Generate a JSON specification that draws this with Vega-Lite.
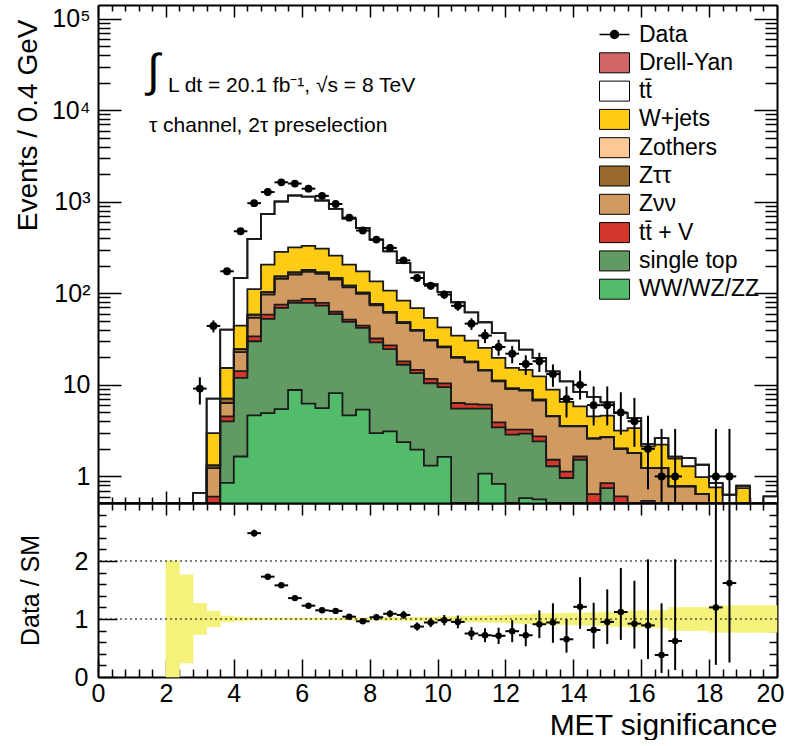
{
  "$schema": "https://vega.github.io/schema/vega-lite/v6.json",
  "padding": {"left": 14, "top": 4, "right": 0, "bottom": 0},
  "spacing": 0,
  "bounds": "flush",
  "config": {
    "font": "Liberation Sans",
    "view": {"stroke": null},
    "axis": {
      "domainColor": "#000", "domainWidth": 2, "tickColor": "#000", "tickWidth": 1.5,
      "labelFont": "Liberation Sans", "labelFontSize": 25, "labelColor": "#000",
      "titleFont": "Liberation Sans", "titleFontSize": 28, "titleFontWeight": "normal", "titleColor": "#000",
      "grid": false, "zindex": 1, "labelOverlap": false, "labelFlush": false, "labelBound": false
    }
  },
  "datasets": {
    "mc": [
      {"lo":0,"hi":0.4,"c1":0,"c2":0,"c3":0,"c4":0,"c5":0,"c6":0,"c7":0,"c8":0,"c9":0},
      {"lo":0.4,"hi":0.8,"c1":0,"c2":0,"c3":0,"c4":0,"c5":0,"c6":0,"c7":0,"c8":0,"c9":0},
      {"lo":0.8,"hi":1.2,"c1":0,"c2":0,"c3":0,"c4":0,"c5":0,"c6":0,"c7":0,"c8":0,"c9":0},
      {"lo":1.2,"hi":1.6,"c1":0,"c2":0,"c3":0,"c4":0,"c5":0,"c6":0,"c7":0,"c8":0,"c9":0},
      {"lo":1.6,"hi":2.0,"c1":0,"c2":0,"c3":0,"c4":0,"c5":0,"c6":0,"c7":0,"c8":0,"c9":0},
      {"lo":2.0,"hi":2.4,"c1":0,"c2":0,"c3":0,"c4":0,"c5":0,"c6":0,"c7":0,"c8":0,"c9":0},
      {"lo":2.4,"hi":2.8,"c1":0,"c2":0,"c3":0,"c4":0,"c5":0,"c6":0,"c7":0,"c8":0,"c9":0},
      {"lo":2.8,"hi":3.2,"c1":0,"c2":0,"c3":0,"c4":0,"c5":0,"c6":0,"c7":0,"c8":0.66,"c9":0},
      {"lo":3.2,"hi":3.6,"c1":0,"c2":0,"c3":0.6,"c4":0.63,"c5":0.09,"c6":0,"c7":1.65,"c8":4.1,"c9":0},
      {"lo":3.6,"hi":4.0,"c1":0.85,"c2":3.14,"c3":0.54,"c4":1.8,"c5":0.74,"c6":0,"c7":8.2,"c8":24.9,"c9":0},
      {"lo":4.0,"hi":4.4,"c1":1.65,"c2":10.25,"c3":2.2,"c4":8.7,"c5":1.8,"c6":0,"c7":19.8,"c8":102.6,"c9":0},
      {"lo":4.4,"hi":4.8,"c1":4.64,"c2":25.3,"c3":3.9,"c4":20.1,"c5":4.6,"c6":0,"c7":52.5,"c8":281,"c9":0},
      {"lo":4.8,"hi":5.2,"c1":4.92,"c2":47.5,"c3":6.1,"c4":38.4,"c5":6.1,"c6":0,"c7":103,"c8":529,"c9":0},
      {"lo":5.2,"hi":5.6,"c1":5.43,"c2":63.7,"c3":5.9,"c4":69,"c5":9,"c6":0,"c7":131,"c8":722,"c9":0},
      {"lo":5.6,"hi":6.0,"c1":8.78,"c2":69.7,"c3":4.5,"c4":77,"c5":9,"c6":0,"c7":148,"c8":853,"c9":0},
      {"lo":6.0,"hi":6.4,"c1":6.23,"c2":72.3,"c3":8.1,"c4":84.4,"c5":9,"c6":0,"c7":149,"c8":811,"c9":0},
      {"lo":6.4,"hi":6.8,"c1":5.57,"c2":67.6,"c3":5.3,"c4":84.5,"c5":6,"c6":0,"c7":139,"c8":724,"c9":0},
      {"lo":6.8,"hi":7.2,"c1":8.13,"c2":51.2,"c3":3.5,"c4":78.2,"c5":6,"c6":0,"c7":111,"c8":576,"c9":0},
      {"lo":7.2,"hi":7.6,"c1":4.64,"c2":44.1,"c3":2.8,"c4":64.5,"c5":5,"c6":0,"c7":85,"c8":449,"c9":0},
      {"lo":7.6,"hi":8.0,"c1":5.35,"c2":36.5,"c3":2.5,"c4":54,"c5":3.6,"c6":0,"c7":72,"c8":343,"c9":0},
      {"lo":8.0,"hi":8.4,"c1":2.97,"c2":26.2,"c3":2.9,"c4":41.7,"c5":2.8,"c6":0,"c7":58.4,"c8":251,"c9":0},
      {"lo":8.4,"hi":8.8,"c1":3.1,"c2":21.5,"c3":2.4,"c4":34,"c5":1.5,"c6":0,"c7":44.5,"c8":180,"c9":0},
      {"lo":8.8,"hi":9.2,"c1":2.37,"c2":14.2,"c3":1.5,"c4":29.2,"c5":1.0,"c6":0,"c7":34.7,"c8":131,"c9":0},
      {"lo":9.2,"hi":9.6,"c1":1.96,"c2":11.5,"c3":1.1,"c4":24.4,"c5":0.8,"c6":0,"c7":29.2,"c8":100,"c9":0},
      {"lo":9.6,"hi":10.0,"c1":1.31,"c2":9.1,"c3":1.2,"c4":18.8,"c5":0.6,"c6":0,"c7":22.9,"c8":72,"c9":0},
      {"lo":10.0,"hi":10.4,"c1":1.63,"c2":7.8,"c3":0.95,"c4":15.3,"c5":0.5,"c6":0,"c7":16.3,"c8":60.5,"c9":0},
      {"lo":10.4,"hi":10.8,"c1":0,"c2":5.5,"c3":0.83,"c4":13.4,"c5":0.4,"c6":0,"c7":14.4,"c8":45.3,"c9":0},
      {"lo":10.8,"hi":11.2,"c1":0,"c2":5.5,"c3":0.67,"c4":11.4,"c5":0.3,"c6":0,"c7":12.5,"c8":31.6,"c9":0},
      {"lo":11.2,"hi":11.6,"c1":1.07,"c2":4.43,"c3":0.58,"c4":8.2,"c5":0.2,"c6":0,"c7":10.8,"c8":23,"c9":0},
      {"lo":11.6,"hi":12.0,"c1":0.83,"c2":2.6,"c3":0.46,"c4":7.0,"c5":0.2,"c6":0,"c7":8.6,"c8":17,"c9":0},
      {"lo":12.0,"hi":12.4,"c1":0,"c2":2.86,"c3":0.38,"c4":5.76,"c5":0.15,"c6":0,"c7":6.15,"c8":15.1,"c9":0},
      {"lo":12.4,"hi":12.8,"c1":0.58,"c2":2.35,"c3":0.31,"c4":5.4,"c5":0.15,"c6":0,"c7":5.8,"c8":9.7,"c9":0},
      {"lo":12.8,"hi":13.2,"c1":0.56,"c2":1.85,"c3":0.33,"c4":4.0,"c5":0.13,"c6":0,"c7":5.5,"c8":7.3,"c9":0},
      {"lo":13.2,"hi":13.6,"c1":0,"c2":1.29,"c3":0.23,"c4":3.0,"c5":0.07,"c6":0,"c7":4.27,"c8":5.2,"c9":0},
      {"lo":13.6,"hi":14.0,"c1":0,"c2":0.96,"c3":0.17,"c4":2.39,"c5":0.03,"c6":0,"c7":2.95,"c8":4.4,"c9":0},
      {"lo":14.0,"hi":14.4,"c1":0,"c2":1.52,"c3":0.13,"c4":1.87,"c5":0.03,"c6":0,"c7":2.28,"c8":2.53,"c9":0},
      {"lo":14.4,"hi":14.8,"c1":0,"c2":0,"c3":0.64,"c4":1.94,"c5":0.02,"c6":0,"c7":1.93,"c8":2.84,"c9":0},
      {"lo":14.8,"hi":15.2,"c1":0,"c2":0.745,"c3":0.1,"c4":1.83,"c5":0.03,"c6":0,"c7":1.9,"c8":1.84,"c9":0},
      {"lo":15.2,"hi":15.6,"c1":0,"c2":0,"c3":0.605,"c4":1.4,"c5":0.01,"c6":0,"c7":1.14,"c8":1.76,"c9":0},
      {"lo":15.6,"hi":16.0,"c1":0,"c2":0,"c3":0,"c4":1.8,"c5":0,"c6":0,"c7":1.57,"c8":0.97,"c9":0},
      {"lo":16.0,"hi":16.4,"c1":0,"c2":0,"c3":0.54,"c4":0.69,"c5":0,"c6":0,"c7":0.9,"c8":0.12,"c9":0},
      {"lo":16.4,"hi":16.8,"c1":0,"c2":0,"c3":0,"c4":1.23,"c5":0,"c6":0,"c7":0.99,"c8":0.4,"c9":0},
      {"lo":16.8,"hi":17.2,"c1":0,"c2":0,"c3":0,"c4":0.78,"c5":0,"c6":0,"c7":0.78,"c8":0.08,"c9":0},
      {"lo":17.2,"hi":17.6,"c1":0,"c2":0,"c3":0,"c4":0.78,"c5":0,"c6":0,"c7":0.51,"c8":0.29,"c9":0},
      {"lo":17.6,"hi":18.0,"c1":0,"c2":0,"c3":0,"c4":0.64,"c5":0,"c6":0,"c7":0.34,"c8":0.36,"c9":0},
      {"lo":18.0,"hi":18.4,"c1":0,"c2":0,"c3":0,"c4":0,"c5":0,"c6":0,"c7":0.76,"c8":0.085,"c9":0},
      {"lo":18.4,"hi":18.8,"c1":0,"c2":0,"c3":0,"c4":0,"c5":0,"c6":0,"c7":0,"c8":0.63,"c9":0},
      {"lo":18.8,"hi":19.2,"c1":0,"c2":0,"c3":0,"c4":0,"c5":0,"c6":0,"c7":0.745,"c8":0.045,"c9":0},
      {"lo":19.2,"hi":19.6,"c1":0,"c2":0,"c3":0,"c4":0,"c5":0,"c6":0,"c7":0,"c8":0,"c9":0},
      {"lo":19.6,"hi":20.0,"c1":0,"c2":0,"c3":0,"c4":0,"c5":0,"c6":0,"c7":0,"c8":0.605,"c9":0}
    ],
    "pts": [
      {"x":3.0,"v":9.1,"lo":6.1,"hi":12.1},
      {"x":3.4,"v":44,"lo":37.4,"hi":50.6},
      {"x":3.8,"v":174,"lo":161,"hi":187},
      {"x":4.2,"v":476,"lo":454,"hi":498},
      {"x":4.6,"v":965,"lo":934,"hi":996},
      {"x":5.0,"v":1276,"lo":1240,"hi":1312},
      {"x":5.4,"v":1630,"lo":1590,"hi":1670},
      {"x":5.8,"v":1580,"lo":1540,"hi":1620},
      {"x":6.2,"v":1390,"lo":1353,"hi":1427},
      {"x":6.6,"v":1160,"lo":1126,"hi":1194},
      {"x":7.0,"v":945,"lo":914,"hi":976},
      {"x":7.4,"v":670,"lo":644,"hi":696},
      {"x":7.8,"v":485,"lo":463,"hi":507},
      {"x":8.2,"v":386,"lo":366,"hi":406},
      {"x":8.6,"v":313,"lo":295,"hi":331},
      {"x":9.0,"v":229,"lo":214,"hi":244},
      {"x":9.4,"v":147,"lo":135,"hi":159},
      {"x":9.8,"v":121,"lo":110,"hi":132},
      {"x":10.2,"v":96.9,"lo":87,"hi":107},
      {"x":10.6,"v":73,"lo":64.5,"hi":81.5},
      {"x":11.0,"v":46.6,"lo":39.8,"hi":53.4},
      {"x":11.4,"v":34.5,"lo":28.6,"hi":40.4},
      {"x":11.8,"v":25.9,"lo":20.8,"hi":31},
      {"x":12.2,"v":21.9,"lo":17.2,"hi":26.6},
      {"x":12.6,"v":16.9,"lo":12.8,"hi":21},
      {"x":13.0,"v":18.1,"lo":13.8,"hi":22.4},
      {"x":13.4,"v":13.1,"lo":9.5,"hi":16.7},
      {"x":13.8,"v":7,"lo":4.4,"hi":9.6},
      {"x":14.2,"v":10,"lo":6.9,"hi":14.3},
      {"x":14.6,"v":6,"lo":3.6,"hi":9.6},
      {"x":15.0,"v":6,"lo":3.6,"hi":9.6},
      {"x":15.4,"v":5,"lo":2.85,"hi":8.3},
      {"x":15.8,"v":4,"lo":2.1,"hi":7.2},
      {"x":16.2,"v":2,"lo":0.72,"hi":4.6},
      {"x":16.6,"v":1,"lo":0.1,"hi":3.3},
      {"x":17.0,"v":1,"lo":0.1,"hi":3.3},
      {"x":18.2,"v":1,"lo":0.1,"hi":3.3},
      {"x":18.6,"v":1,"lo":0.1,"hi":3.3}
    ],
    "ratio": [
      {"x":4.6,"r":2.48,"lo":2.42,"hi":2.54},
      {"x":5.0,"r":1.73,"lo":1.69,"hi":1.77},
      {"x":5.4,"r":1.58,"lo":1.55,"hi":1.61},
      {"x":5.8,"r":1.36,"lo":1.33,"hi":1.39},
      {"x":6.2,"r":1.23,"lo":1.2,"hi":1.26},
      {"x":6.6,"r":1.15,"lo":1.12,"hi":1.18},
      {"x":7.0,"r":1.14,"lo":1.1,"hi":1.18},
      {"x":7.4,"r":1.04,"lo":1.0,"hi":1.08},
      {"x":7.8,"r":0.96,"lo":0.92,"hi":1.0},
      {"x":8.2,"r":1.03,"lo":0.98,"hi":1.08},
      {"x":8.6,"r":1.09,"lo":1.03,"hi":1.15},
      {"x":9.0,"r":1.07,"lo":1.0,"hi":1.14},
      {"x":9.4,"r":0.87,"lo":0.8,"hi":0.94},
      {"x":9.8,"r":0.94,"lo":0.86,"hi":1.02},
      {"x":10.2,"r":0.98,"lo":0.89,"hi":1.07},
      {"x":10.6,"r":0.95,"lo":0.84,"hi":1.06},
      {"x":11.0,"r":0.75,"lo":0.64,"hi":0.86},
      {"x":11.4,"r":0.72,"lo":0.6,"hi":0.84},
      {"x":11.8,"r":0.71,"lo":0.57,"hi":0.85},
      {"x":12.2,"r":0.79,"lo":0.6,"hi":0.98},
      {"x":12.6,"r":0.72,"lo":0.53,"hi":0.91},
      {"x":13.0,"r":0.91,"lo":0.67,"hi":1.15},
      {"x":13.4,"r":0.94,"lo":0.59,"hi":1.27},
      {"x":13.8,"r":0.65,"lo":0.42,"hi":1.0},
      {"x":14.2,"r":1.21,"lo":0.83,"hi":1.72},
      {"x":14.6,"r":0.81,"lo":0.49,"hi":1.28},
      {"x":15.0,"r":0.95,"lo":0.57,"hi":1.51},
      {"x":15.4,"r":1.12,"lo":0.64,"hi":1.88},
      {"x":15.8,"r":0.92,"lo":0.49,"hi":1.66},
      {"x":16.2,"r":0.89,"lo":0.31,"hi":2.03},
      {"x":16.6,"r":0.38,"lo":0.07,"hi":1.27},
      {"x":17.0,"r":0.62,"lo":0.12,"hi":2.03},
      {"x":18.2,"r":1.2,"lo":0.21,"hi":3.5},
      {"x":18.6,"r":1.62,"lo":0.25,"hi":3.5}
    ],
    "band": [
      {"x":2.2,"blo":0,"bhi":2.0},
      {"x":2.6,"blo":0.24,"bhi":1.76},
      {"x":3.0,"blo":0.73,"bhi":1.27},
      {"x":3.4,"blo":0.865,"bhi":1.135},
      {"x":3.8,"blo":0.95,"bhi":1.05},
      {"x":4.2,"blo":0.97,"bhi":1.03},
      {"x":4.6,"blo":0.98,"bhi":1.02},
      {"x":5.0,"blo":0.985,"bhi":1.015},
      {"x":5.4,"blo":0.985,"bhi":1.015},
      {"x":5.8,"blo":0.985,"bhi":1.015},
      {"x":6.2,"blo":0.985,"bhi":1.015},
      {"x":6.6,"blo":0.985,"bhi":1.015},
      {"x":7.0,"blo":0.985,"bhi":1.015},
      {"x":7.4,"blo":0.98,"bhi":1.02},
      {"x":7.8,"blo":0.98,"bhi":1.02},
      {"x":8.2,"blo":0.98,"bhi":1.02},
      {"x":8.6,"blo":0.975,"bhi":1.025},
      {"x":9.0,"blo":0.975,"bhi":1.025},
      {"x":9.4,"blo":0.97,"bhi":1.03},
      {"x":9.8,"blo":0.97,"bhi":1.03},
      {"x":10.2,"blo":0.96,"bhi":1.04},
      {"x":10.6,"blo":0.955,"bhi":1.045},
      {"x":11.0,"blo":0.95,"bhi":1.05},
      {"x":11.4,"blo":0.945,"bhi":1.055},
      {"x":11.8,"blo":0.94,"bhi":1.06},
      {"x":12.2,"blo":0.93,"bhi":1.07},
      {"x":12.6,"blo":0.92,"bhi":1.08},
      {"x":13.0,"blo":0.91,"bhi":1.09},
      {"x":13.4,"blo":0.905,"bhi":1.095},
      {"x":13.8,"blo":0.9,"bhi":1.1},
      {"x":14.2,"blo":0.895,"bhi":1.105},
      {"x":14.6,"blo":0.89,"bhi":1.11},
      {"x":15.0,"blo":0.88,"bhi":1.12},
      {"x":15.4,"blo":0.87,"bhi":1.13},
      {"x":15.8,"blo":0.86,"bhi":1.14},
      {"x":16.2,"blo":0.855,"bhi":1.145},
      {"x":16.6,"blo":0.85,"bhi":1.15},
      {"x":17.0,"blo":0.8,"bhi":1.2},
      {"x":17.4,"blo":0.8,"bhi":1.2},
      {"x":17.8,"blo":0.8,"bhi":1.2},
      {"x":18.2,"blo":0.77,"bhi":1.23},
      {"x":18.6,"blo":0.77,"bhi":1.23},
      {"x":19.0,"blo":0.77,"bhi":1.23},
      {"x":19.4,"blo":0.77,"bhi":1.23},
      {"x":19.8,"blo":0.77,"bhi":1.23}
    ],
    "lines": [{"r":1},{"r":2}],
    "notes": [
      {"t":"∫","px":1.45,"py":26000,"fs":46,"bl":"middle"},
      {"t":"L dt = 20.1 fb⁻¹, √s = 8 TeV","px":2.06,"py":18400,"fs":21,"bl":"alphabetic"},
      {"t":"τ channel, 2τ preselection","px":1.5,"py":6710,"fs":21,"bl":"alphabetic"}
    ]
  },
  "vconcat": [
    {
      "width": 679,
      "height": 498,
      "layer": [
        {
          "data": {"name": "mc"},
          "transform": [
            {"fold": ["c1","c2","c3","c4","c5","c6","c7","c8","c9"], "as": ["key","v"]},
            {"stack": "v", "groupby": ["lo"], "sort": [{"field": "key", "order": "ascending"}], "as": ["y0","y1"]},
            {"fold": ["lo","hi"], "as": ["ek","edge"]}
          ],
          "mark": {"type": "area", "clip": true},
          "encoding": {
            "x": {"field": "edge", "type": "quantitative",
              "scale": {"domain": [0, 20], "nice": false, "zero": false},
              "axis": {"orient": "bottom", "labels": false, "title": null,
                "values": [0,0.4,0.8,1.2,1.6,2,2.4,2.8,3.2,3.6,4,4.4,4.8,5.2,5.6,6,6.4,6.8,7.2,7.6,8,8.4,8.8,9.2,9.6,10,10.4,10.8,11.2,11.6,12,12.4,12.8,13.2,13.6,14,14.4,14.8,15.2,15.6,16,16.4,16.8,17.2,17.6,18,18.4,18.8,19.2,19.6,20],
                "tickSize": {"condition": {"test": "datum.value % 2 === 0", "value": -12}, "value": -6}}},
            "y": {"field": "y1", "type": "quantitative",
              "scale": {"type": "log", "domain": [0.512, 141000], "nice": false, "clamp": true},
              "axis": {"orient": "left", "title": "Events / 0.4 GeV",
                "values": [0.6,0.7,0.8,0.9,1,2,3,4,5,6,7,8,9,10,20,30,40,50,60,70,80,90,100,200,300,400,500,600,700,800,900,1000,2000,3000,4000,5000,6000,7000,8000,9000,10000,20000,30000,40000,50000,60000,70000,80000,90000,100000],
                "labelExpr": "datum.value === 1 ? '1' : datum.value === 10 ? '10' : datum.value === 100 ? '10²' : datum.value === 1000 ? '10³' : datum.value === 10000 ? '10⁴' : datum.value === 100000 ? '10⁵' : ''",
                "labelOverlap": false,
                "tickSize": {"condition": {"test": "indexof([1,10,100,1000,10000,100000], datum.value) >= 0", "value": -23}, "value": -12},
                "labelPadding": 31,
                "titleAnchor": "end", "titleAlign": "right", "titleAngle": 270, "titleBaseline": "alphabetic",
                "titleX": -62, "titleY": 14}},
            "y2": {"field": "y0"},
            "color": {"field": "key", "type": "nominal",
              "scale": {"domain": ["Data","c9","c8","c7","c6","c5","c4","c3","c2","c1"],
                "range": ["#000000","#d46666","#ffffff","#fecc14","#fec896","#9a6a2e","#d19a61","#d2382c","#619a62","#53bc6b"]},
              "legend": {
                "orient": "none", "legendX": 505, "legendY": 18, "title": null, "padding": 0,
                "symbolType": "M-1.5,-1H1.5V1H-1.5Z", "symbolSize": 400,
                "symbolStrokeColor": "#000", "symbolStrokeWidth": 1, "symbolOpacity": 1,
                "labelFont": "Liberation Sans", "labelFontSize": 23, "labelColor": "#000",
                "labelOffset": 13, "rowPadding": 3.3,
                "labelExpr": "datum.value === 'Data' ? 'Data' : datum.value === 'c9' ? 'Drell-Yan' : datum.value === 'c8' ? 'tt̄' : datum.value === 'c7' ? 'W+jets' : datum.value === 'c6' ? 'Zothers' : datum.value === 'c5' ? 'Zττ' : datum.value === 'c4' ? 'Zνν' : datum.value === 'c3' ? 'tt̄ + V' : datum.value === 'c2' ? 'single top' : 'WW/WZ/ZZ'",
                "encode": {"symbols": {"update": {
                  "shape": {"signal": "datum.value === 'Data' ? 'M-1.5,0H-0.4M0.4,0H1.5M-0.4,0A0.4,0.4 0 1,1 0.4,0A0.4,0.4 0 1,1 -0.4,0Z' : 'M-1.5,-1H1.5V1H-1.5Z'"},
                  "strokeWidth": {"signal": "datum.value === 'Data' ? 1.5 : 1"}}}}
              }},
            "order": [{"field": "edge", "type": "quantitative"}, {"field": "ek", "type": "nominal"}]
          }
        },
        {
          "data": {"name": "mc"},
          "transform": [
            {"fold": ["c1","c2","c3","c4","c5","c6","c7","c8","c9"], "as": ["key","v"]},
            {"stack": "v", "groupby": ["lo"], "sort": [{"field": "key", "order": "ascending"}], "as": ["y0","y1"]},
            {"fold": ["lo","hi"], "as": ["ek","edge"]}
          ],
          "mark": {"type": "line", "color": "#1a1a1a", "strokeWidth": 1.8, "clip": true},
          "encoding": {
            "x": {"field": "edge", "type": "quantitative",
              "axis": {"orient": "top", "labels": false, "title": null,
                "values": [0,0.4,0.8,1.2,1.6,2,2.4,2.8,3.2,3.6,4,4.4,4.8,5.2,5.6,6,6.4,6.8,7.2,7.6,8,8.4,8.8,9.2,9.6,10,10.4,10.8,11.2,11.6,12,12.4,12.8,13.2,13.6,14,14.4,14.8,15.2,15.6,16,16.4,16.8,17.2,17.6,18,18.4,18.8,19.2,19.6,20],
                "tickSize": {"condition": {"test": "datum.value % 2 === 0", "value": -12}, "value": -6}}},
            "y": {"field": "y1", "type": "quantitative",
              "axis": {"orient": "right", "labels": false, "title": null,
                "values": [0.6,0.7,0.8,0.9,1,2,3,4,5,6,7,8,9,10,20,30,40,50,60,70,80,90,100,200,300,400,500,600,700,800,900,1000,2000,3000,4000,5000,6000,7000,8000,9000,10000,20000,30000,40000,50000,60000,70000,80000,90000,100000],
                "tickSize": {"condition": {"test": "indexof([1,10,100,1000,10000,100000], datum.value) >= 0", "value": -23}, "value": -12}}},
            "detail": {"field": "key"},
            "order": [{"field": "edge", "type": "quantitative"}, {"field": "ek", "type": "nominal"}]
          }
        },
        {
          "data": {"name": "pts"},
          "mark": {"type": "rule", "color": "#000", "strokeWidth": 2, "clip": true},
          "encoding": {
            "x": {"field": "x", "type": "quantitative", "axis": null},
            "y": {"field": "lo", "type": "quantitative", "axis": null},
            "y2": {"field": "hi"}
          }
        },
        {
          "data": {"name": "pts"},
          "transform": [{"bin": {"step": 0.4, "extent": [0, 20]}, "field": "x", "as": ["xl","xh"]}],
          "mark": {"type": "rule", "color": "#000", "strokeWidth": 2},
          "encoding": {
            "x": {"field": "xl", "type": "quantitative", "axis": null},
            "x2": {"field": "xh"},
            "y": {"field": "v", "type": "quantitative", "axis": null}
          }
        },
        {
          "data": {"name": "pts"},
          "mark": {"type": "point", "filled": true, "color": "#000", "opacity": 1, "size": 62},
          "encoding": {
            "x": {"field": "x", "type": "quantitative", "axis": null},
            "y": {"field": "v", "type": "quantitative", "axis": null}
          }
        },
        {
          "data": {"name": "notes"},
          "mark": {"type": "text", "align": "left", "color": "#000", "font": "Liberation Sans"},
          "encoding": {
            "x": {"field": "px", "type": "quantitative", "axis": null},
            "y": {"field": "py", "type": "quantitative", "axis": null},
            "text": {"field": "t"},
            "size": {"field": "fs", "type": "quantitative", "scale": null},
            "baseline": {"field": "bl"}
          }
        }
      ],
      "resolve": {"axis": {"x": "independent", "y": "independent"}, "legend": {"color": "independent"}}
    },
    {
      "width": 679,
      "height": 174,
      "layer": [
        {
          "data": {"name": "band"},
          "transform": [
            {"bin": {"step": 0.4, "extent": [0, 20]}, "field": "x", "as": ["el","eh"]}
          ],
          "mark": {"type": "rect", "color": "#f5f27c", "stroke": "#f5f27c", "strokeWidth": 0.6},
          "encoding": {
            "x": {"field": "el", "type": "quantitative",
              "scale": {"domain": [0, 20], "nice": false, "zero": false},
              "axis": {"orient": "bottom", "title": "MET significance", "titleFontSize": 30,
                "values": [0,0.4,0.8,1.2,1.6,2,2.4,2.8,3.2,3.6,4,4.4,4.8,5.2,5.6,6,6.4,6.8,7.2,7.6,8,8.4,8.8,9.2,9.6,10,10.4,10.8,11.2,11.6,12,12.4,12.8,13.2,13.6,14,14.4,14.8,15.2,15.6,16,16.4,16.8,17.2,17.6,18,18.4,18.8,19.2,19.6,20],
                "labelExpr": "datum.value % 2 === 0 ? format(datum.value, 'd') : ''",
                "labelOverlap": false,
                "labelOffset": {"condition": {"test": "datum.value === 20", "value": -7}, "value": 0},
                "tickSize": {"condition": {"test": "datum.value % 2 === 0", "value": -18}, "value": -8},
                "labelPadding": 22, "labelBaseline": "top",
                "titleAnchor": "end", "titleAlign": "right", "titleBaseline": "alphabetic", "titleY": 57}},
            "x2": {"field": "eh"},
            "y": {"field": "bhi", "type": "quantitative",
              "scale": {"domain": [0, 3], "nice": false},
              "axis": {"orient": "left", "title": "Data / SM", "titleFontSize": 25,
                "values": [0,0.2,0.4,0.6,0.8,1,1.2,1.4,1.6,1.8,2,2.2,2.4,2.6,2.8],
                "labelExpr": "datum.value === 0 ? '0' : datum.value === 1 ? '1' : datum.value === 2 ? '2' : ''",
                "labelOverlap": false,
                "tickSize": {"condition": {"test": "datum.value === 0 || datum.value === 1 || datum.value === 2", "value": -19}, "value": -8},
                "labelPadding": 29,
                "titleAngle": 270, "titleBaseline": "alphabetic", "titleX": -60}},
            "y2": {"field": "blo"}
          }
        },
        {
          "data": {"name": "lines"},
          "mark": {"type": "rule", "color": "#000", "strokeWidth": 1.2, "strokeDash": [2, 3]},
          "encoding": {
            "y": {"field": "r", "type": "quantitative", "axis": null}
          }
        },
        {
          "data": {"name": "ratio"},
          "mark": {"type": "rule", "color": "#000", "strokeWidth": 2, "clip": true},
          "encoding": {
            "x": {"field": "x", "type": "quantitative", "axis": null},
            "y": {"field": "lo", "type": "quantitative", "axis": null},
            "y2": {"field": "hi"}
          }
        },
        {
          "data": {"name": "ratio"},
          "transform": [{"bin": {"step": 0.4, "extent": [0, 20]}, "field": "x", "as": ["xl","xh"]}],
          "mark": {"type": "rule", "color": "#000", "strokeWidth": 2},
          "encoding": {
            "x": {"field": "xl", "type": "quantitative", "axis": null},
            "x2": {"field": "xh"},
            "y": {"field": "r", "type": "quantitative", "axis": null}
          }
        },
        {
          "data": {"name": "ratio"},
          "mark": {"type": "point", "filled": true, "color": "#000", "opacity": 1, "size": 42},
          "encoding": {
            "x": {"field": "x", "type": "quantitative",
              "axis": {"orient": "top", "labels": false, "title": null,
                "values": [0,0.4,0.8,1.2,1.6,2,2.4,2.8,3.2,3.6,4,4.4,4.8,5.2,5.6,6,6.4,6.8,7.2,7.6,8,8.4,8.8,9.2,9.6,10,10.4,10.8,11.2,11.6,12,12.4,12.8,13.2,13.6,14,14.4,14.8,15.2,15.6,16,16.4,16.8,17.2,17.6,18,18.4,18.8,19.2,19.6,20],
                "tickSize": {"condition": {"test": "datum.value % 2 === 0", "value": -12}, "value": -7}}},
            "y": {"field": "r", "type": "quantitative",
              "axis": {"orient": "right", "labels": false, "title": null,
                "values": [0,0.2,0.4,0.6,0.8,1,1.2,1.4,1.6,1.8,2,2.2,2.4,2.6,2.8],
                "tickSize": {"condition": {"test": "datum.value === 0 || datum.value === 1 || datum.value === 2", "value": -18}, "value": -8}}}
          }
        }
      ],
      "resolve": {"axis": {"x": "independent", "y": "independent"}}
    }
  ]
}
